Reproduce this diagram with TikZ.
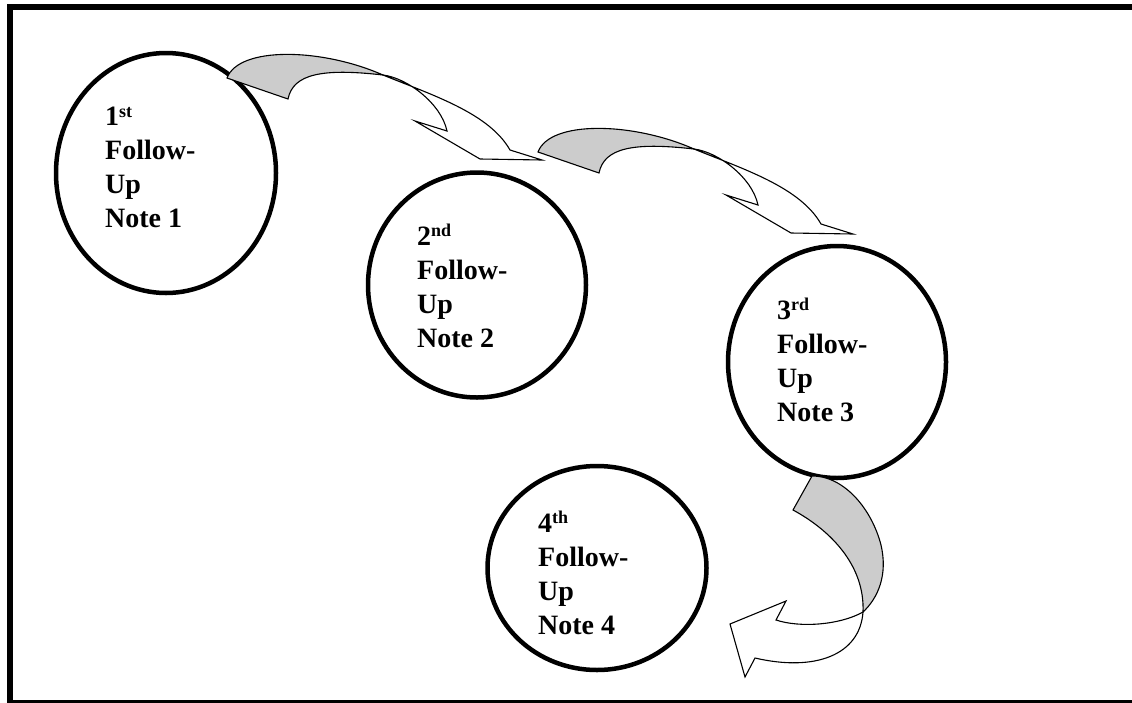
\documentclass[tikz,border=0pt]{standalone}
\usepackage{fontspec}
\setmainfont{Liberation Serif}
\usetikzlibrary{shapes.geometric}
\newcommand\ordsup[1]{\raisebox{8.5pt}{\fontsize{18}{18}\selectfont #1}}
\tikzset{
  note/.style={ellipse, draw, line width=4.5pt, inner sep=0pt},
  notetext/.style={anchor=north west, inner sep=0pt, align=left,
    font=\fontsize{28}{34}\selectfont\bfseries},
  ribbonback/.style={draw, fill=black!20, line width=1.1pt, line join=miter},
  ribbonfront/.style={draw, fill=white, line width=1.1pt, line join=miter},
  bendarrow/.pic={
    % underside of the ribbon
    \path[ribbonback] (0,0) .. controls (12,-32) and (95,-30) .. (156,-3)
      .. controls (95,-10) and (66,-4) .. (61,21) -- cycle;
    % front of the ribbon with its head
    \path[ribbonfront] (156,-3) .. controls (205,17) and (262,35) .. (283,72)
      -- (315,82) -- (253,81) -- (188,43) -- (220,53)
      .. controls (214,25) and (180,0) .. (156,-3) -- cycle;
  }
}
\begin{document}
\begin{tikzpicture}[x=1pt, y=-1pt]
\useasboundingbox (0,0) rectangle (1132,702);
\begin{scope}
  \clip (0,0) rectangle (1132,702);
  \draw[line width=6pt] (10,7) rectangle (1140,703);
\end{scope}

% the four notes
\node[note, minimum width=220pt, minimum height=240pt] (c1) at (166,173) {};
\node[note, minimum width=218pt, minimum height=225pt] (c2) at (477,285) {};
\node[note, minimum width=218pt, minimum height=232pt] (c3) at (837,362) {};
\node[note, minimum width=219pt, minimum height=204pt] (c4) at (597,568) {};

\node[notetext] (t1) at (105,107) {1\ordsup{st}\\Follow-\\Up\\Note 1};
\node[notetext] (t2) at (417,224) {2\ordsup{nd}\\Follow-\\Up\\Note 2};
\node[notetext] (t3) at (777,298) {3\ordsup{rd}\\Follow-\\Up\\Note 3};
\node[notetext] (t4) at (538,511) {4\ordsup{th}\\Follow-\\Up\\Note 4};

% curved block arrows between the notes
\pic at (227,78) {bendarrow};
\pic at (538,152) {bendarrow};

\path[ribbonback] (793,510) -- (812,476)
  .. controls (845,476) and (872,510) .. (881,545)
  .. controls (888,575) and (878,598) .. (863,612)
  .. controls (865,565) and (830,530) .. (793,510) -- cycle;
\path[ribbonfront] (863,612) .. controls (860,655) and (815,672) .. (755,658)
  -- (745,677) -- (730,624) -- (786,601) -- (776,620)
  .. controls (800,628) and (840,625) .. (863,612) -- cycle;
\end{tikzpicture}
\end{document}
